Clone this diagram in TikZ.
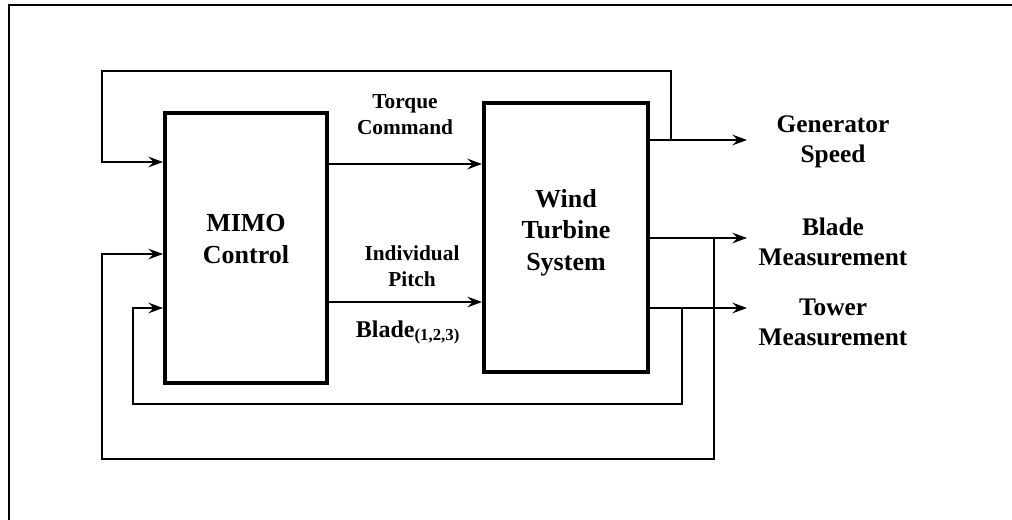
\documentclass[tikz,border=0pt]{standalone}
\usepackage{fontspec}
\setmainfont{Liberation Serif}
\usetikzlibrary{arrows.meta,positioning}
\begin{document}
\begin{tikzpicture}[x=0.75pt, y=-0.75pt, line join=miter, >={Stealth[length=11pt,width=8pt,inset=4pt]}]
    \tikzset{block/.style={draw, line width=3pt, minimum width=121.5pt, minimum height=202.5pt, inner sep=0pt},
             boxtxt/.style={align=center, font=\fontsize{19.5}{23.5}\selectfont\bfseries},
             sigtxt/.style={align=center, font=\fontsize{16}{19.5}\selectfont\bfseries},
             outtxt/.style={align=center, font=\fontsize{19}{22.5}\selectfont\bfseries},
             conn/.style={line width=2pt},
             frame/.style={line width=2.2pt}}
    \useasboundingbox (0,0) rectangle (1012,519);
    \draw[frame] (9,540) -- (9,5) -- (1030,5);
    % blocks
    \node[block] (mimo) at (246,248) {};
    \node[block, minimum width=123pt, minimum height=201.75pt] (wts) at (566,237.5) {};
    \node[boxtxt] (mimotxt) at (246,239) {MIMO\\Control};
    \node[boxtxt] (wtstxt) at (566,232.5) {Wind\\Turbine\\System};
    % control signals
    \draw[conn,->] (mimo.east |- 0,164) -- (wts.west |- 0,164);
    \draw[conn,->] (mimo.east |- 0,302) -- (wts.west |- 0,302);
    \node[sigtxt] (torque) at (405,115) {Torque\\Command};
    \node[sigtxt] (pitch) at (412,266) {Individual\\Pitch};
    \node[anchor=base, font=\fontsize{18}{21}\selectfont\bfseries] (blade) at (408,337) {Blade\textsubscript{(1,2,3)}};
    % outputs
    \foreach \yy/\nm/\txt/\ty in {140/gen/{Generator\\Speed}/142, 238/bld/{Blade\\Measurement}/242, 308/twr/{Tower\\Measurement}/322}{
        \coordinate (\nm out) at (747,\yy);
        \draw[conn,->] (wts.east |- 0,\yy) -- (\nm out);
        \node[outtxt] (\nm) at (833,\ty) {\txt};
    }
    % feedback loops
    \coordinate (j1) at (671,140); \coordinate (tl) at (102,71);
    \coordinate (j2) at (714,238); \coordinate (bl) at (102,459);
    \coordinate (j3) at (682,308); \coordinate (il) at (133,404);
    \draw[conn,->] (j1) |- (tl) |- (mimo.west |- 0,162);
    \draw[conn,->] (j2) |- (bl) |- (mimo.west |- 0,254);
    \draw[conn,->] (j3) |- (il) |- (mimo.west |- 0,308);
\end{tikzpicture}
\end{document}
